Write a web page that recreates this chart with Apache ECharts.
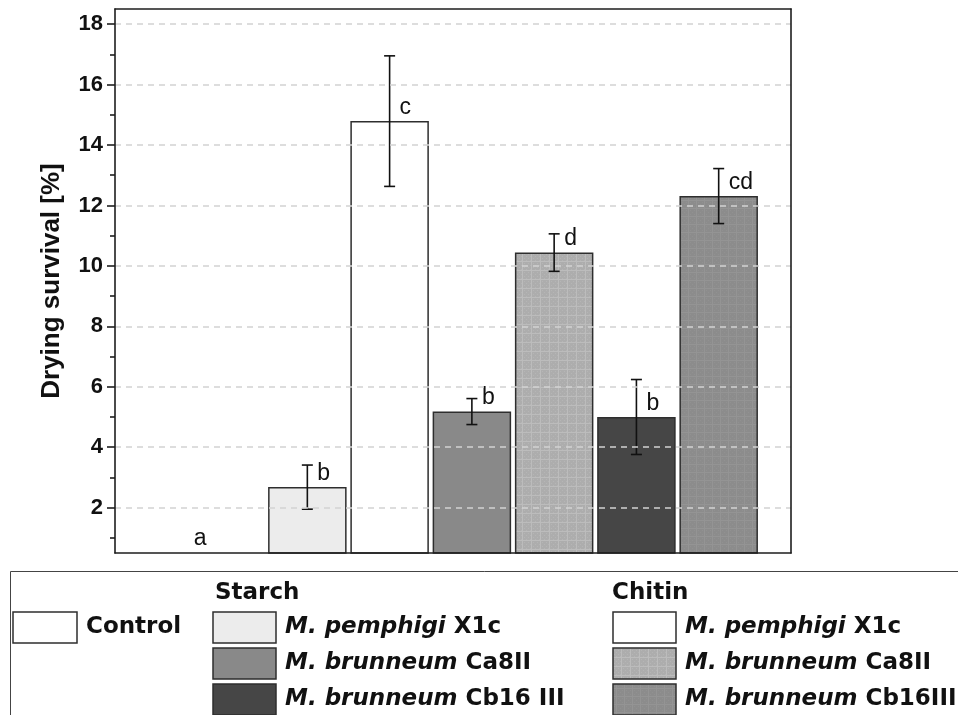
<!DOCTYPE html>
<html>
<head>
<meta charset="utf-8">
<script src="https://cdn.jsdelivr.net/npm/echarts@6/dist/echarts.min.js"></script>
<style>
  html, body { margin: 0; padding: 0; background: #ffffff; }
  #chart { width: 958px; height: 715px; }
</style>
</head>
<body>
<div id="chart"></div>
<script>
// ---------- data ----------
const categories = [
  'Control',
  'Starch M. pemphigi X1c',
  'Chitin M. pemphigi X1c',
  'Starch M. brunneum Ca8II',
  'Chitin M. brunneum Ca8II',
  'Starch M. brunneum Cb16 III',
  'Chitin M. brunneum Cb16III'
];
const survivalMean = [0, 2.68, 14.79, 5.18, 10.44, 5.00, 12.31];
const survivalErr  = [0, 0.73, 2.16, 0.43, 0.62, 1.24, 0.91];
const letters      = ['a', 'b', 'c', 'b', 'd', 'b', 'cd'];
const yMajorTicks  = [2, 4, 6, 8, 10, 12, 14, 16, 18];
const yMinorTicks  = [1, 3, 5, 7, 9, 11, 13, 15, 17];
const legendStarch = [
  { italic: 'M. pemphigi', rest: 'X1c' },
  { italic: 'M. brunneum', rest: 'Ca8II' },
  { italic: 'M. brunneum', rest: 'Cb16 III' }
];
const legendChitin = [
  { italic: 'M. pemphigi', rest: 'X1c' },
  { italic: 'M. brunneum', rest: 'Ca8II' },
  { italic: 'M. brunneum', rest: 'Cb16III' }
];

// ---------- styles ----------
function makePattern(base, line, dot, step) {
  const c = document.createElement('canvas');
  c.width = step; c.height = step;
  const ctx = c.getContext('2d');
  ctx.fillStyle = base; ctx.fillRect(0, 0, step, step);
  ctx.fillStyle = line;
  ctx.fillRect(0, 0, step, 1);
  ctx.fillRect(0, 0, 1, step);
  ctx.fillStyle = dot;
  for (let i = 2; i < step; i += 2) {
    for (let j = 2; j < step; j += 2) {
      if ((i + j) % 4 === 0) ctx.fillRect(i, j, 1, 1);
    }
  }
  return { image: c, repeat: 'repeat' };
}
const patCa8Chitin  = makePattern('#adadad', '#bcbcbc', '#b5b5b5', 9);
const patCb16Chitin = makePattern('#8c8c8c', '#949494', '#919191', 8);
const barFills = ['#ffffff', '#ececec', '#ffffff', '#898989', patCa8Chitin, '#464646', patCb16Chitin];
const EDGE = '#2e2e2e';
const FONT = '"Liberation Sans", Arial, sans-serif';
const LFONT = '"DejaVu Sans", "Liberation Sans", sans-serif';

const barData = survivalMean.map((v, i) => ({
  value: [i + 1, v],
  itemStyle: { color: barFills[i], borderColor: EDGE, borderWidth: 1.5 }
}));
const errData = survivalMean.map((v, i) => [i + 1, v, survivalErr[i], i]);

const chart = echarts.init(document.getElementById('chart'), null, { renderer: 'canvas' });

// ---------- legend graphics ----------
const LX = { control: 13, starch: 213, chitin: 613 };
const rowY = [612, 648, 684];
const SW = 63, SH = 31;
const graphics = [];
graphics.push({
  type: 'rect', shape: { x: 10.5, y: 571.5, width: 980, height: 200 },
  style: { fill: 'none', stroke: '#444', lineWidth: 1 }, silent: true
});
graphics.push({
  type: 'rect', shape: { x: LX.control, y: rowY[0], width: 64, height: SH },
  style: { fill: '#ffffff', stroke: EDGE, lineWidth: 1.5 }
});
graphics.push({
  type: 'text', x: 86, y: rowY[0] + SH / 2,
  style: { text: 'Control', font: 'bold 23px ' + LFONT, fill: '#111', verticalAlign: 'middle' }
});
graphics.push({
  type: 'text', x: 215, y: 593,
  style: { text: 'Starch', font: 'bold 23px ' + LFONT, fill: '#111', verticalAlign: 'middle' }
});
graphics.push({
  type: 'text', x: 612, y: 593,
  style: { text: 'Chitin', font: 'bold 23px ' + LFONT, fill: '#111', verticalAlign: 'middle' }
});
const starchFills = [barFills[1], barFills[3], barFills[5]];
const chitinFills = [barFills[2], barFills[4], barFills[6]];
function legendRow(x0, fill, item, r) {
  graphics.push({
    type: 'rect', shape: { x: x0, y: rowY[r], width: SW, height: SH },
    style: { fill: fill, stroke: EDGE, lineWidth: 1.5 }
  });
  graphics.push({
    type: 'text', x: x0 + 72, y: rowY[r] + SH / 2,
    style: {
      text: '{i|' + item.italic + '}{n| ' + item.rest + '}',
      verticalAlign: 'middle',
      rich: {
        i: { font: 'italic bold 23px ' + LFONT, fill: '#111' },
        n: { font: 'bold 23px ' + LFONT, fill: '#111' }
      }
    }
  });
}
legendStarch.forEach((it, r) => legendRow(LX.starch, starchFills[r], it, r));
legendChitin.forEach((it, r) => legendRow(LX.chitin, chitinFills[r], it, r));

// ---------- option ----------
const xMin = -0.338, xMax = 7.879;
const frameLine = { show: true, onZero: false, lineStyle: { color: '#1e1e1e', width: 1.6 } };

const option = {
  animation: false,
  backgroundColor: '#ffffff',
  grid: { left: 115, right: 167, top: 9, bottom: 162, containLabel: false },
  xAxis: [
    { type: 'value', min: xMin, max: xMax, position: 'bottom', z: 10,
      axisLine: frameLine, axisTick: { show: false }, axisLabel: { show: false }, splitLine: { show: false } },
    { type: 'value', min: xMin, max: xMax, position: 'top', z: 10,
      axisLine: frameLine, axisTick: { show: false }, axisLabel: { show: false }, splitLine: { show: false } }
  ],
  yAxis: [
    { type: 'value', min: 0.5, max: 18.5, position: 'left', z: 10,
      name: 'Drying survival [%]', nameLocation: 'middle', nameGap: 50,
      nameTextStyle: { fontFamily: FONT, fontWeight: 'bold', fontSize: 26, color: '#111' },
      axisLine: frameLine,
      axisTick: { show: true, customValues: yMajorTicks, length: 8, lineStyle: { color: '#1e1e1e', width: 1.6 } },
      axisLabel: { show: true, customValues: yMajorTicks, margin: 12,
        fontFamily: FONT, fontWeight: 'bold', fontSize: 22, color: '#111' },
      splitLine: { show: false } },
    { type: 'value', min: 0.5, max: 18.5, position: 'left', z: 10,
      axisLine: { show: false, onZero: false },
      axisTick: { show: true, customValues: yMinorTicks, length: 5, lineStyle: { color: '#1e1e1e', width: 1.6 } },
      axisLabel: { show: false }, splitLine: { show: false } },
    { type: 'value', min: 0.5, max: 18.5, position: 'right', z: 10,
      axisLine: frameLine, axisTick: { show: false }, axisLabel: { show: false }, splitLine: { show: false } }
  ],
  graphic: graphics,
  series: [
    {
      type: 'line', data: [], z: 1, silent: true,
      markLine: {
        silent: true, symbol: ['none', 'none'], label: { show: false },
        lineStyle: { type: [6, 5], color: '#d2d2d2', width: 1.5 },
        data: yMajorTicks.map(v => ({ yAxis: v }))
      }
    },
    {
      type: 'bar', name: 'Drying survival', data: barData, barWidth: 78.5, z: 2,
      xAxisIndex: 0, yAxisIndex: 0
    },
    {
      type: 'custom', z: 3, xAxisIndex: 0, yAxisIndex: 0, data: errData,
      renderItem: function (params, api) {
        const x = api.value(0), m = api.value(1), e = api.value(2), idx = api.value(3);
        const bottomPx = api.coord([x, 0.5])[1];
        const pTop = api.coord([x, m + e]);
        const pBot = api.coord([x, m - e]);
        const pMean = api.coord([x, m]);
        const children = [];
        if (e > 0) {
          const ls = { stroke: '#111', lineWidth: 1.6 };
          children.push({ type: 'line', shape: { x1: pTop[0], y1: pTop[1], x2: pBot[0], y2: pBot[1] }, style: ls });
          children.push({ type: 'line', shape: { x1: pTop[0] - 5.5, y1: pTop[1], x2: pTop[0] + 5.5, y2: pTop[1] }, style: ls });
          children.push({ type: 'line', shape: { x1: pBot[0] - 5.5, y1: pBot[1], x2: pBot[0] + 5.5, y2: pBot[1] }, style: ls });
          children.push({ type: 'text', x: pMean[0] + 10, y: pMean[1] - 13.5,
            style: { text: letters[idx], font: '23px ' + FONT, fill: '#111', align: 'left', verticalAlign: 'middle' } });
        } else {
          children.push({ type: 'text', x: pMean[0] - 25, y: bottomPx - 14,
            style: { text: letters[idx], font: '23px ' + FONT, fill: '#111', align: 'center', verticalAlign: 'middle' } });
        }
        return { type: 'group', children: children };
      }
    }
  ]
};
chart.setOption(option);
</script>
</body>
</html>
